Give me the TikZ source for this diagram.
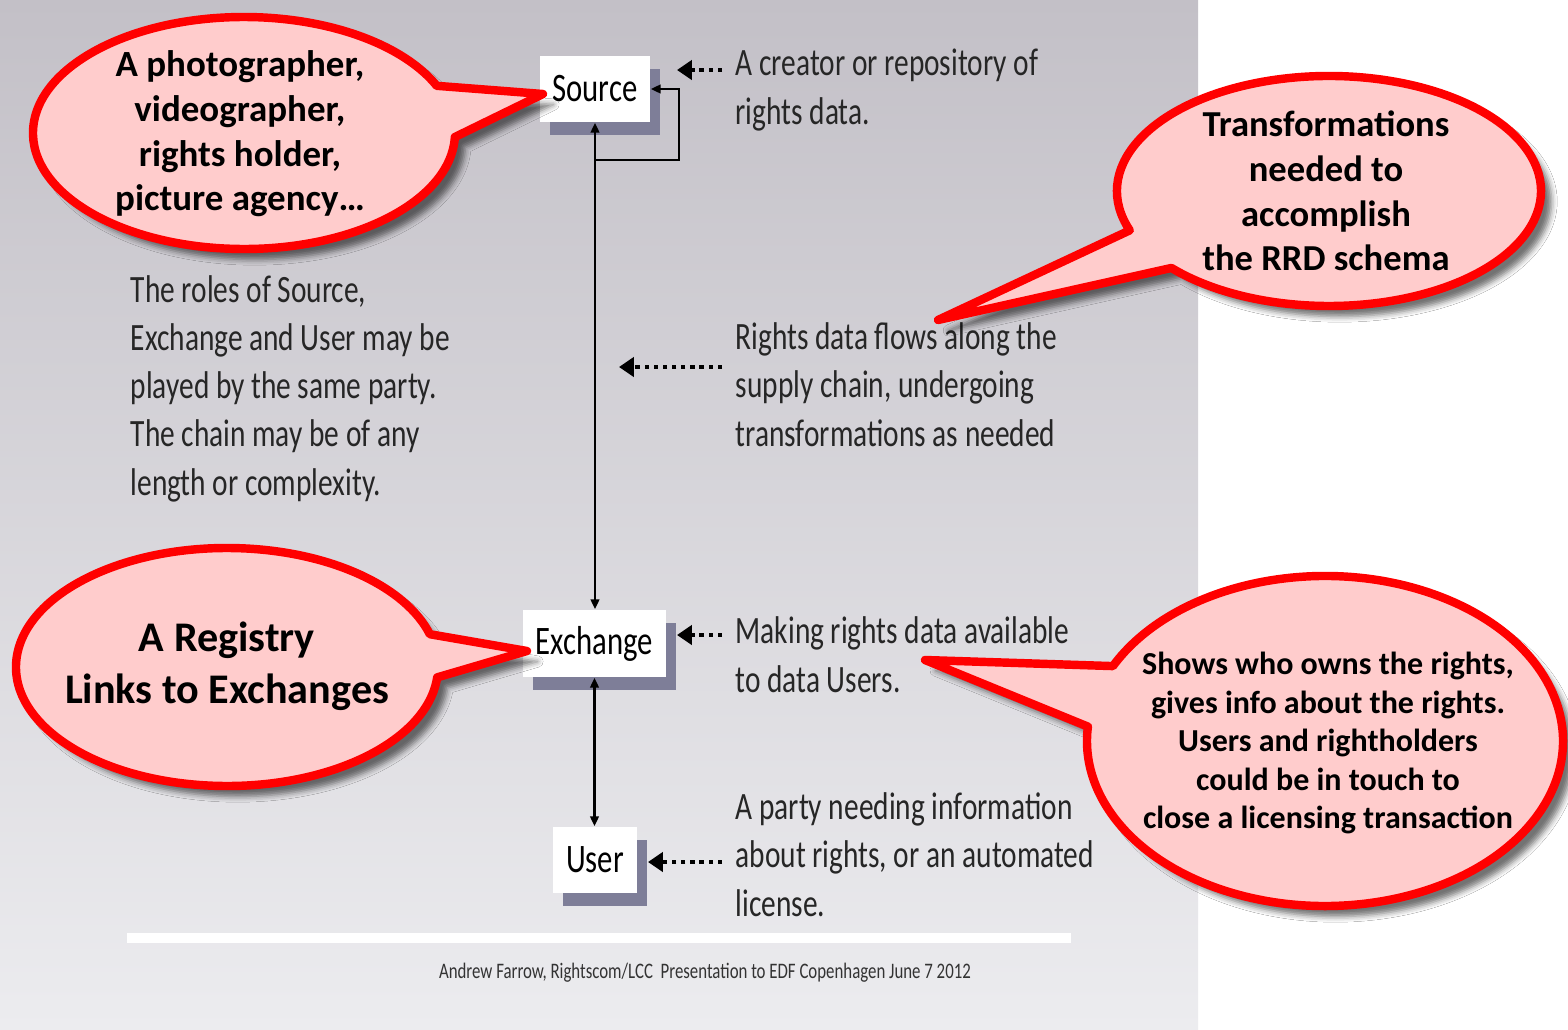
\documentclass[tikz,border=0pt]{standalone}
\usepackage{fontspec}
\setmainfont{Carlito}
\newfontfamily\slidefont[FakeStretch=0.76]{Carlito}
\usepackage{tikz}
\usetikzlibrary{arrows.meta}
\usetikzlibrary{calc}
\usetikzlibrary{shadows}
\usetikzlibrary{shadows.blur}

\definecolor{bubblered}{RGB}{255,0,0}
\definecolor{bubblepink}{RGB}{255,204,204}
\definecolor{boxshade}{RGB}{126,126,152}
\definecolor{paneltop}{RGB}{195,192,199}
\definecolor{panelbot}{RGB}{236,236,239}

\begin{document}
\begin{tikzpicture}[x=0.01cm, y=-0.01cm,
    role/.style={fill=white, inner sep=0pt, font=\slidefont\fontsize{11.5}{13}\selectfont,
      drop shadow={shadow xshift=0.1cm, shadow yshift=-0.13cm, fill=boxshade, opacity=1}},
    txt/.style={anchor=base west, align=left, inner sep=0pt, text=black!85,
      font=\slidefont\fontsize{11}{13.66}\selectfont},
    link/.style={line width=0.8pt, >={Triangle[length=2.8pt, width=2.4pt]}},
    hint/.style={line width=1.2pt, dash pattern=on 1.2pt off 1.4pt,
      -{Triangle[length=4.2pt, width=5.4pt]}},
    bubble/.style={draw=bubblered, fill=bubblepink, line width=2.4pt, line join=round,
      blur shadow={shadow xshift=3pt, shadow yshift=-3pt, shadow blur radius=1.6pt, shadow opacity=55}},
    say/.style={align=center, inner sep=0pt}
  ]
    % slide background
    \useasboundingbox (0,0) rectangle (1568,1030);
    \fill[white] (0,0) rectangle (1568,1030);
    \shade[top color=paneltop, bottom color=panelbot] (0,0) rectangle (1198,1030);
    \draw[white, line width=2.6pt] (127,938) -- (1071,938);
    \node[inner sep=0pt, text=black!80, font=\slidefont\fontsize{6.3}{8}\selectfont] (F) at (705,973)
      {Andrew Farrow, Rightscom/LCC\ \ Presentation to EDF Copenhagen June 7 2012};

    % the chain
    \node[role, minimum width=1.1cm, minimum height=0.66cm] (S) at (595,89) {Source};
    \node[role, minimum width=1.43cm, minimum height=0.67cm] (X) at (594.5,643.5) {Exchange};
    \node[role, minimum width=0.84cm, minimum height=0.66cm] (U) at (595,860) {User};

    \coordinate (L) at (595,160);
    \draw[link, <->] (S.south) -- (S.south |- X.north);
    \draw[link, <->] (X.south) -- (X.south |- U.north);
    \draw[link, ->] (L) -- ++(84,0) |- (S.east);

    % notes (placed by the baseline of their last line)
    \node[txt] (T1) at (735,124) {A creator or repository of\\rights data.};
    \node[txt] (T2) at (735,446) {Rights data flows along the\\supply chain, undergoing\\transformations as needed};
    \node[txt] (T3) at (130,495) {The roles of Source,\\Exchange and User may be\\played by the same party.\\The chain may be of any\\length or complexity.};
    \node[txt] (T4) at (735,692) {Making rights data available\\to data Users.};
    \node[txt] (T5) at (735,916) {A party needing information\\about rights, or an automated\\license.};

    \coordinate (h1) at (722,70);  \coordinate (e1) at (677,70);
    \coordinate (h2) at (722,367); \coordinate (e2) at (619,367);
    \coordinate (h3) at (722,635); \coordinate (e3) at (677,635);
    \coordinate (h4) at (722,862); \coordinate (e4) at (648,862);
    \draw[hint] (h1) -- (e1);
    \draw[hint] (h2) -- (e2);
    \draw[hint] (h3) -- (e3);
    \draw[hint] (h4) -- (e4);

    % callouts
    \coordinate (c1) at (244,133);  \coordinate (p1) at (543,94);
    \coordinate (c2) at (227,667);  \coordinate (p2) at (527,651);
    \coordinate (c3) at (1329,191); \coordinate (p3) at (938,320);
    \coordinate (c4) at (1325,741); \coordinate (p4) at (925,660);

    \draw[bubble] (p1) -- ($(c1)+(2:211 and 116)$) arc[start angle=2, end angle=336, x radius=211, y radius=116] -- cycle;
    \draw[bubble] (p2) -- ($(c2)+(5:211 and 119)$) arc[start angle=5, end angle=344, x radius=211, y radius=119] -- cycle;
    \draw[bubble] (p3) -- ($(c3)+(160:212 and 115)$) arc[start angle=160, end angle=498, x radius=212, y radius=115] -- cycle;
    \draw[bubble] (p4) -- ($(c4)+(207:238 and 165)$) arc[start angle=207, end angle=545, x radius=238, y radius=165] -- cycle;

    \node[say, font=\bfseries\fontsize{10.5}{12.7}\selectfont] (B1) at (240,134)
      {A photographer,\\videographer,\\rights holder,\\picture agency…};
    \node[say, font=\bfseries\fontsize{12}{14.8}\selectfont] (B2) at (227,666)
      {A Registry\\Links to Exchanges};
    \node[say, font=\bfseries\fontsize{10.4}{12.7}\selectfont] (B3) at (1326,191)
      {Transformations\\needed to\\accomplish\\the RRD schema};
    \node[say, font=\bfseries\fontsize{9.1}{10.95}\selectfont] (B4) at (1328,743)
      {Shows who owns the rights,\\gives info about the rights.\\Users and rightholders\\could be in touch to\\close a licensing transaction};
\end{tikzpicture}
\end{document}
